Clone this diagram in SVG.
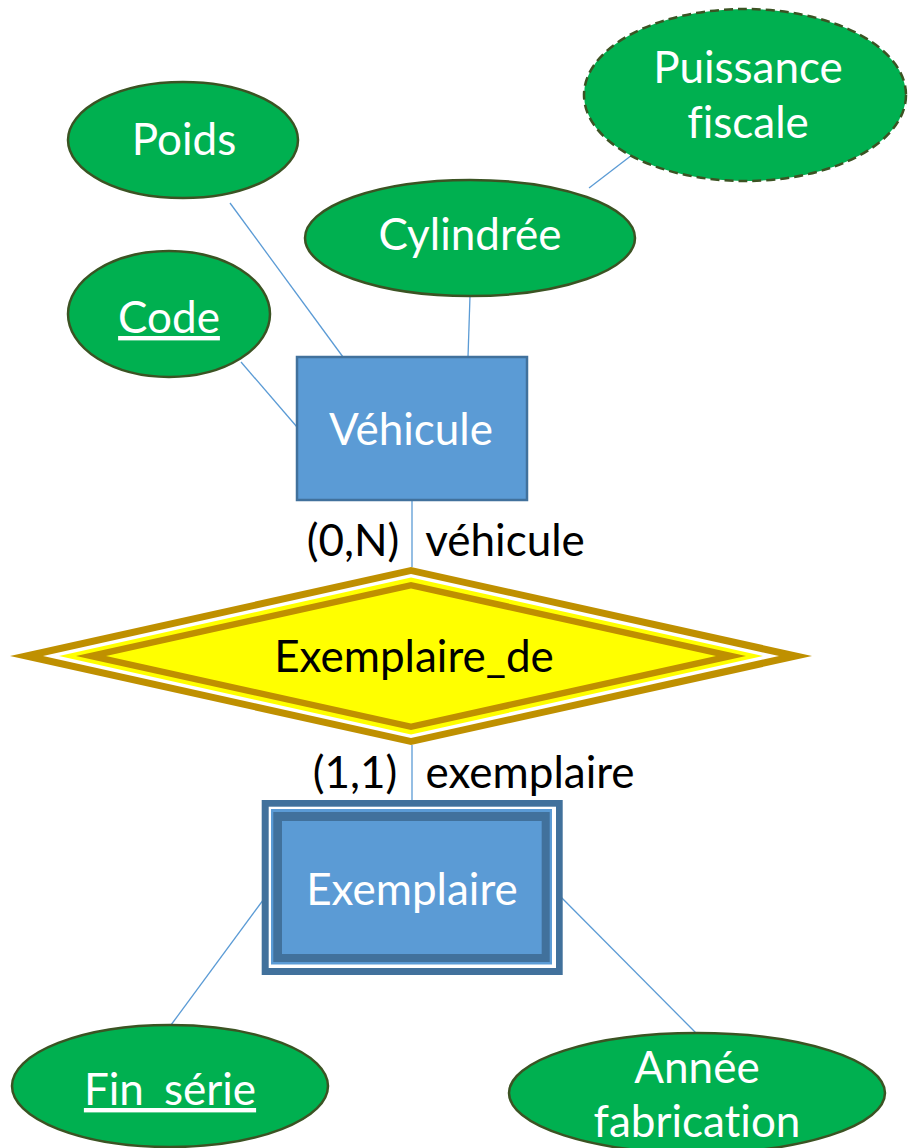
<svg xmlns="http://www.w3.org/2000/svg" width="908" height="1148" viewBox="0 0 908 1148">
<style>
text{font-family:Lato,"Open Sans","Liberation Sans",sans-serif;font-size:44px;text-anchor:middle;font-variant-ligatures:none}
.w{fill:#ffffff}
.k{fill:#000000}
.attr{fill:#00B050;stroke:#3B5323;stroke-width:2.5}
.dash{stroke-dasharray:9 5}
.c{stroke:#5B9BD5;stroke-width:1.3;fill:none}
</style>
<rect width="908" height="1148" fill="#ffffff"/>
<g id="connectors">
<line class="c" x1="230" y1="203" x2="343" y2="357"/>
<line class="c" x1="470" y1="296" x2="468" y2="357"/>
<line class="c" x1="241" y1="362" x2="297" y2="427"/>
<line class="c" x1="632" y1="155" x2="589" y2="188"/>
<line class="c" x1="412" y1="501" x2="412" y2="567"/>
<line class="c" x1="412" y1="745" x2="412" y2="812"/>
<line class="c" x1="272" y1="888" x2="171" y2="1025"/>
<line class="c" x1="552" y1="888" x2="696" y2="1033"/>
</g>
<g id="puissance">
<ellipse class="attr dash" cx="745" cy="95" rx="161" ry="86"/>
<text class="w" x="748" y="83">Puissance</text>
<text class="w" x="748" y="138">fiscale</text>
</g>
<g id="poids">
<ellipse class="attr" cx="183" cy="140" rx="115" ry="58"/>
<text class="w" x="184" y="155">Poids</text>
</g>
<g id="cylindree">
<ellipse class="attr" cx="470" cy="238" rx="165" ry="58"/>
<text class="w" x="470" y="250">Cylindrée</text>
</g>
<g id="code">
<ellipse class="attr" cx="169" cy="314" rx="101" ry="63"/>
<text class="w" x="169" y="333" text-decoration="underline">Code</text>
</g>
<g id="vehicule">
<rect x="297" y="357" width="230" height="143" fill="#5B9BD5" stroke="#41719C" stroke-width="2.5"/>
<text class="w" x="411" y="445">Véhicule</text>
</g>
<g id="labels1">
<text class="k" x="353" y="556">(0,N)</text>
<text class="k" x="505" y="556">véhicule</text>
</g>
<g id="exemplaire_de">
<polygon points="411,567 812,656 411,745 10,656" fill="#BF9000"/>
<polygon points="411,574 779,656 411,738 43,656" fill="#ffffff"/>
<polygon points="411,577.5 763,656 411,734.5 59,656" fill="#FFFF00"/>
<polygon points="411,582 746,656 411,730 76,656" fill="#BF9000"/>
<polygon points="411,588.5 716,656 411,723.5 106,656" fill="#FFFF00"/>
<text class="k" x="414" y="672">Exemplaire_de</text>
</g>
<g id="labels2">
<text class="k" x="355" y="788">(1,1)</text>
<text class="k" x="530" y="788">exemplaire</text>
</g>
<g id="exemplaire">
<rect x="261.7" y="800" width="301" height="175" fill="#41719C"/>
<rect x="268.7" y="806.7" width="287.3" height="161.3" fill="#ffffff"/>
<rect x="271" y="809" width="281" height="155.5" fill="#5B9BD5"/>
<rect x="273.3" y="812" width="276.4" height="150" fill="#41719C"/>
<rect x="282" y="821" width="259.7" height="133" fill="#5B9BD5"/>
<text class="w" x="412" y="905">Exemplaire</text>
</g>
<g id="fin_serie">
<ellipse class="attr" cx="170" cy="1086" rx="158" ry="61"/>
<text class="w" x="170" y="1105" text-decoration="underline">Fin_série</text>
</g>
<g id="annee">
<ellipse class="attr" cx="697" cy="1093" rx="188" ry="60"/>
<text class="w" x="697" y="1083">Année</text>
<text class="w" x="697" y="1137">fabrication</text>
</g>
</svg>
